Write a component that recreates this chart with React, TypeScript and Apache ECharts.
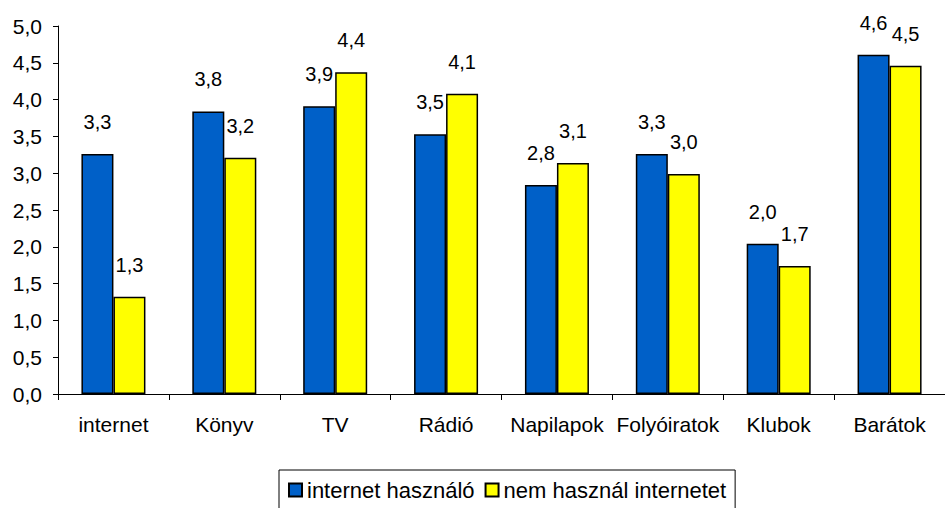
import React, { useEffect, useRef } from "react";
import * as echarts from "echarts";

const categories = ["internet", "Könyv", "TV", "Rádió", "Napilapok", "Folyóiratok", "Klubok", "Barátok"];
const seriesNames = ["internet használó", "nem használ internetet"];
const usersValues = [3.26, 3.84, 3.91, 3.53, 2.84, 3.26, 2.04, 4.61];
const nonUsersValues = [1.32, 3.21, 4.37, 4.08, 3.14, 2.99, 1.74, 4.46];
const yTicks = [0, 0.5, 1, 1.5, 2, 2.5, 3, 3.5, 4, 4.5, 5];

const fmt = (v: number) => v.toFixed(1).replace(".", ",");
const FONT = "'Liberation Sans', Arial, sans-serif";

export default function App() {
  const ref = useRef<HTMLDivElement>(null);
  useEffect(() => {
    if (!ref.current) return;
    const chart = echarts.init(ref.current, null, { renderer: "svg" });
    const labelStyle = {
      show: true,
      position: "top" as const,
      distance: 22,
      fontFamily: "'Liberation Sans Narrow', 'Arial Narrow', " + FONT,
      fontSize: 20,
      color: "#000",
      formatter: (p: any) => fmt(p.value),
    };
    chart.setOption({
      animation: false,
      textStyle: { fontFamily: FONT },
      grid: { left: 58, right: 0, top: 26, bottom: 114 },
      legend: {
        data: seriesNames,
        left: 279,
        top: 470,
        icon: "rect",
        itemWidth: 13,
        itemHeight: 13,
        itemGap: 10,
        padding: [9, 9, 12, 9],
        borderColor: "#000",
        borderWidth: 1,
        textStyle: { fontSize: 22, color: "#000", fontFamily: FONT },
      },
      xAxis: {
        type: "category",
        data: categories,
        axisLine: { lineStyle: { color: "#000", width: 1 } },
        axisTick: { show: true, length: 6, inside: false, lineStyle: { color: "#000" } },
        axisLabel: { color: "#000", fontSize: 21, margin: 20, interval: 0, fontFamily: FONT },
      },
      yAxis: {
        type: "value",
        min: yTicks[0],
        max: yTicks[yTicks.length - 1],
        interval: 0.5,
        splitLine: { show: false },
        axisLine: { show: true, lineStyle: { color: "#000", width: 1 } },
        axisTick: { show: true, length: 5, lineStyle: { color: "#000" } },
        axisLabel: {
          color: "#000",
          fontSize: 21,
          margin: 16,
          fontFamily: FONT,
          formatter: (v: number) => fmt(v),
        },
      },
      series: [
        {
          name: seriesNames[0],
          type: "bar",
          data: usersValues,
          barWidth: 32,
          barGap: "0%",
          itemStyle: { color: "#0060C8", borderColor: "#000", borderWidth: 1.5 },
          label: labelStyle,
        },
        {
          name: seriesNames[1],
          type: "bar",
          data: nonUsersValues,
          barWidth: 32,
          barGap: "0%",
          itemStyle: { color: "#FFFF00", borderColor: "#000", borderWidth: 1.5 },
          label: labelStyle,
        },
      ],
    });
    return () => chart.dispose();
  }, []);
  return <div ref={ref} style={{ width: 945, height: 508, position: "absolute", left: 0, top: 0 }} />;
}
